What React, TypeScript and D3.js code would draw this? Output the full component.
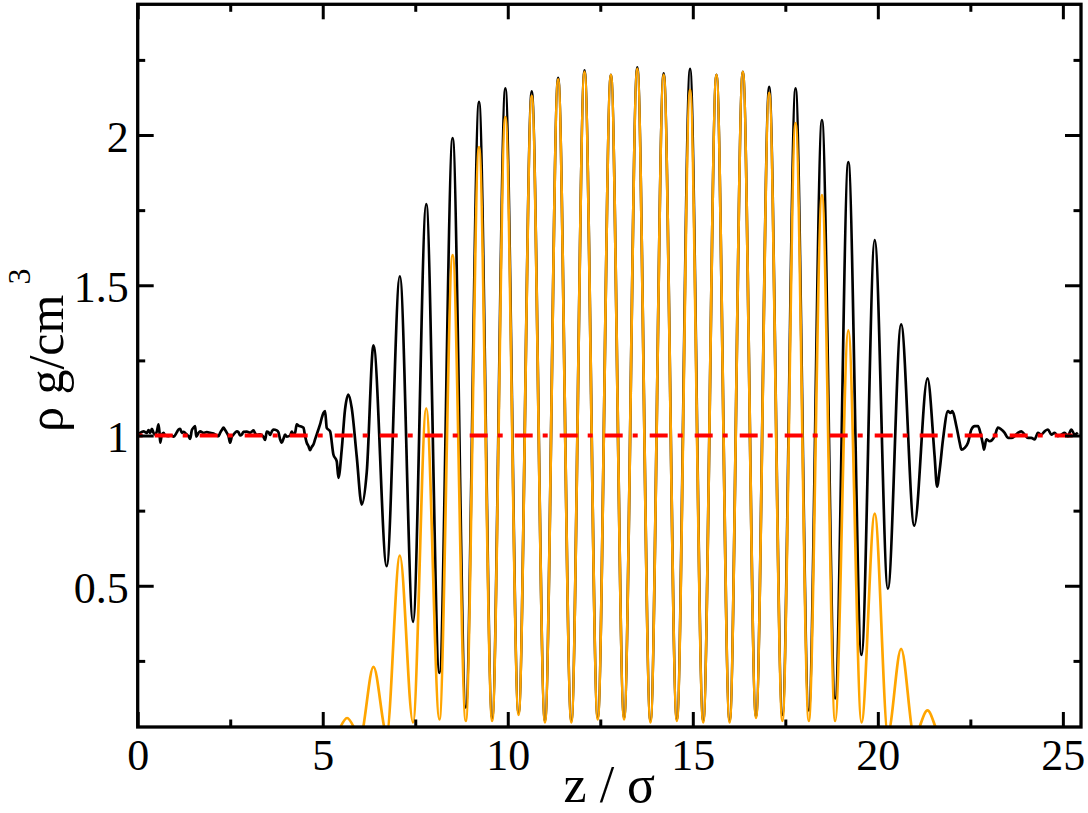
import React, { useRef, useEffect } from 'react';
import * as d3 from 'd3';

// total density (black), [z / sigma, rho]
const totalProfile: [number, number][] = [
  [0.02, 1.004], [0.068, 1.009], [0.158, 1.014], [0.248, 1.009], [0.293, 1.018], [0.338, 1.009],
  [0.383, 1.022], [0.428, 1.009], [0.473, 1.003], [0.518, 1.014], [0.563, 1.037], [0.59, 1.009],
  [0.608, 0.976], [0.653, 1.003], [0.698, 1.009], [0.743, 1.0], [0.833, 0.998], [0.923, 1.0],
  [0.968, 0.996], [1.058, 1.011], [1.103, 1.02], [1.148, 1.022], [1.193, 1.009], [1.238, 1.012],
  [1.328, 1.003], [1.373, 0.998], [1.418, 0.989], [1.463, 1.018], [1.508, 1.026], [1.553, 1.031],
  [1.58, 0.996], [1.643, 1.009], [1.688, 1.014], [1.778, 1.009], [1.868, 1.011], [1.958, 1.009],
  [2.048, 1.007], [2.138, 1.0], [2.183, 0.998], [2.228, 1.009], [2.273, 1.018], [2.318, 1.026],
  [2.363, 1.018], [2.408, 1.009], [2.453, 0.998], [2.498, 0.976], [2.543, 0.996], [2.588, 1.003],
  [2.678, 1.014], [2.723, 1.011], [2.768, 1.0], [2.813, 1.003], [2.858, 1.012], [2.948, 1.013],
  [3.038, 1.009], [3.083, 1.013], [3.128, 1.017], [3.173, 1.007], [3.218, 1.002], [3.308, 1.004],
  [3.398, 0.996], [3.443, 0.985], [3.488, 1.013], [3.533, 1.011], [3.578, 1.002], [3.623, 1.013],
  [3.668, 1.02], [3.758, 1.017], [3.803, 1.011], [3.848, 0.987], [3.893, 0.976], [3.938, 0.989],
  [3.983, 1.003], [4.028, 0.996], [4.118, 1.0], [4.163, 1.013], [4.208, 1.004], [4.253, 1.009],
  [4.298, 1.037], [4.343, 1.033], [4.433, 1.029], [4.478, 1.026], [4.523, 0.998], [4.568, 0.976],
  [4.613, 0.965], [4.658, 0.951], [4.703, 0.962], [4.748, 0.97], [4.793, 0.987], [4.883, 1.02],
  [4.928, 1.037], [4.974, 1.059], [5.02, 1.075], [5.063, 1.081], [5.109, 1.025], [5.199, 1.014],
  [5.288, 0.937], [5.379, 0.914], [5.424, 0.859], [5.513, 0.953], [5.603, 1.087], [5.693, 1.136],
  [5.783, 1.092], [5.918, 0.931], [6.054, 0.77], [6.189, 0.877],
  [6.371, 1.3], [6.728, 0.565], [7.084, 1.53], [7.44, 0.38], [7.797, 1.77], [8.153, 0.21],
  [8.51, 1.99], [8.866, 0.095], [9.223, 2.11], [9.579, 0.06], [9.935, 2.155], [10.292, 0.075],
  [10.648, 2.145], [11.005, 0.05], [11.361, 2.19], [11.718, 0.05], [12.074, 2.215], [12.431, 0.06],
  [12.787, 2.2], [13.143, 0.06], [13.5, 2.225], [13.856, 0.05], [14.213, 2.205], [14.569, 0.055],
  [14.926, 2.22], [15.282, 0.05], [15.639, 2.2], [15.995, 0.05], [16.352, 2.21], [16.708, 0.065],
  [17.064, 2.16], [17.421, 0.07], [17.777, 2.155], [18.134, 0.085], [18.49, 2.05], [18.847, 0.125],
  [19.203, 1.91], [19.559, 0.27], [19.916, 1.65], [20.272, 0.49], [20.629, 1.37], [20.985, 0.7],
  [21.342, 1.19], [21.535, 0.93], [21.6, 0.83], [21.672, 0.887], [21.761, 0.987], [21.896, 1.081],
  [21.961, 1.075], [22.015, 1.081], [22.123, 1.031], [22.212, 0.976], [22.258, 0.953], [22.347, 0.959],
  [22.436, 0.976], [22.528, 1.02], [22.617, 1.031], [22.706, 1.031], [22.771, 1.009], [22.841, 0.97],
  [22.868, 0.953], [22.933, 0.987], [23.022, 0.981], [23.157, 0.998], [23.246, 1.026], [23.338, 1.02],
  [23.427, 1.009], [23.516, 0.992], [23.608, 0.992], [23.697, 0.998], [23.786, 1.009], [23.878, 1.014],
  [23.967, 1.003], [24.056, 0.992], [24.148, 0.992], [24.237, 0.987], [24.326, 1.009], [24.418, 1.003],
  [24.507, 1.014], [24.596, 1.02], [24.688, 1.003], [24.777, 1.009], [24.866, 0.998], [24.958, 1.003],
  [25.047, 1.009], [25.136, 0.998], [25.228, 1.02], [25.317, 1.003], [25.406, 1.009],
];

// layered component (orange), [z / sigma, rho]
const layerProfile: [number, number][] = [
  [0, 0], [5.3, 0], [5.658, 0.06], [6.015, 0], [6.371, 0.23], [6.728, 0.01], [7.084, 0.6],
  [7.44, 0.045], [7.797, 1.09], [8.153, 0.055], [8.51, 1.6], [8.866, 0.05], [9.223, 1.96],
  [9.579, 0.05], [9.935, 2.06], [10.292, 0.07], [10.648, 2.13], [11.005, 0.045], [11.361, 2.185],
  [11.718, 0.045], [12.074, 2.21], [12.431, 0.055], [12.787, 2.2], [13.143, 0.055], [13.5, 2.22],
  [13.856, 0.045], [14.213, 2.2], [14.569, 0.05], [14.926, 2.15], [15.282, 0.045], [15.639, 2.2],
  [15.995, 0.045], [16.352, 2.21], [16.708, 0.06], [17.064, 2.14], [17.421, 0.05], [17.777, 2.04],
  [18.134, 0.05], [18.49, 1.8], [18.847, 0.05], [19.203, 1.35], [19.559, 0.045], [19.916, 0.74],
  [20.272, 0.01], [20.629, 0.29], [20.985, 0], [21.342, 0.085], [21.698, 0], [25.49, 0],
];

const bulkRho = 1.0;
const bulkRange = [0, 25.45];

const xMajor = [0, 5, 10, 15, 20, 25];
const xMinor = [2.5, 7.5, 12.5, 17.5, 22.5];
const yMajor = [0.5, 1, 1.5, 2];
const yMinor = [0.25, 0.75, 1.25, 1.75, 2.25];

const App = () => {
  const ref = useRef<SVGSVGElement>(null);

  useEffect(() => {
    const svg = d3.select(ref.current);
    svg.selectAll('*').remove();

    const left = 137.7, right = 1081, top = 4.3, bottom = 727;
    const font = '"Liberation Serif", "Times New Roman", serif';

    const x = d3.scaleLinear().domain([0, 25.49]).range([left, right]);
    const y = d3.scaleLinear().domain([0.03, 2.435]).range([bottom, top]);

    svg.append('defs').append('clipPath').attr('id', 'plot-clip')
      .append('rect')
      .attr('x', left).attr('y', top)
      .attr('width', right - left).attr('height', bottom - top);

    const plot = svg.append('g').attr('clip-path', 'url(#plot-clip)');

    const line = d3.line<[number, number]>()
      .x(d => x(d[0]))
      .y(d => y(d[1]))
      .curve(d3.curveMonotoneX);

    plot.append('path')
      .datum(totalProfile)
      .attr('d', line)
      .attr('fill', 'none')
      .attr('stroke', '#000')
      .attr('stroke-width', 2.7)
      .attr('stroke-linejoin', 'round');

    plot.append('path')
      .datum(layerProfile)
      .attr('d', line)
      .attr('fill', 'none')
      .attr('stroke', '#ffa500')
      .attr('stroke-width', 2.7)
      .attr('stroke-linejoin', 'round');

    // bulk density reference, dash-dot
    plot.append('line')
      .attr('x1', x(bulkRange[0])).attr('x2', x(bulkRange[1]))
      .attr('y1', y(bulkRho)).attr('y2', y(bulkRho))
      .attr('stroke', '#ff0000')
      .attr('stroke-width', 4)
      .attr('stroke-dasharray', '18,10,5,12')
      .attr('stroke-dashoffset', 28);

    const styleAxis = (g: any) => {
      g.select('.domain').remove();
      g.selectAll('line').attr('stroke', '#000').attr('stroke-width', 3);
      g.selectAll('text')
        .attr('font-family', font)
        .attr('font-size', 44)
        .attr('fill', '#000');
    };

    // bottom
    svg.append('g')
      .attr('transform', `translate(0,${bottom})`)
      .call(d3.axisBottom(x).tickValues(xMajor).tickSize(-15).tickPadding(12).tickFormat(d3.format('d')))
      .call(styleAxis);
    svg.append('g')
      .attr('transform', `translate(0,${bottom})`)
      .call(d3.axisBottom(x).tickValues(xMinor).tickSize(-7.5).tickFormat(() => ''))
      .call(styleAxis);
    // top
    svg.append('g')
      .attr('transform', `translate(0,${top})`)
      .call(d3.axisTop(x).tickValues(xMajor).tickSize(-15).tickFormat(() => ''))
      .call(styleAxis);
    svg.append('g')
      .attr('transform', `translate(0,${top})`)
      .call(d3.axisTop(x).tickValues(xMinor).tickSize(-7.5).tickFormat(() => ''))
      .call(styleAxis);
    // left
    svg.append('g')
      .attr('transform', `translate(${left},0)`)
      .call(d3.axisLeft(y).tickValues(yMajor).tickSize(-16).tickPadding(9).tickFormat(d => String(d)))
      .call(styleAxis)
      .call((g: any) => g.selectAll('text').attr('dy', '0.37em'));
    svg.append('g')
      .attr('transform', `translate(${left},0)`)
      .call(d3.axisLeft(y).tickValues(yMinor).tickSize(-7.5).tickFormat(() => ''))
      .call(styleAxis);
    // right
    svg.append('g')
      .attr('transform', `translate(${right},0)`)
      .call(d3.axisRight(y).tickValues(yMajor).tickSize(-16).tickFormat(() => ''))
      .call(styleAxis);
    svg.append('g')
      .attr('transform', `translate(${right},0)`)
      .call(d3.axisRight(y).tickValues(yMinor).tickSize(-7.5).tickFormat(() => ''))
      .call(styleAxis);

    // frame
    svg.append('rect')
      .attr('x', left).attr('y', top)
      .attr('width', right - left).attr('height', bottom - top)
      .attr('fill', 'none')
      .attr('stroke', '#000')
      .attr('stroke-width', 3.3);

    // axis titles
    svg.append('text')
      .attr('x', (left + right) / 2)
      .attr('y', 802)
      .attr('text-anchor', 'middle')
      .attr('font-family', font)
      .attr('font-size', 52)
      .attr('xml:space', 'preserve')
      .text('z / σ');

    const yTitle = svg.append('text')
      .attr('transform', 'translate(63,432) rotate(-90)')
      .attr('text-anchor', 'start')
      .attr('font-family', font)
      .attr('font-size', 50);
    yTitle.append('tspan').text('ρ g/cm');
    yTitle.append('tspan')
      .attr('font-size', 32)
      .attr('dx', 10)
      .attr('dy', -33)
      .text('3');
  }, []);

  return (
    <svg
      ref={ref}
      width={1088}
      height={813}
      style={{ position: 'absolute', left: 0, top: 0, background: '#fff' }}
    />
  );
};

export default App;
